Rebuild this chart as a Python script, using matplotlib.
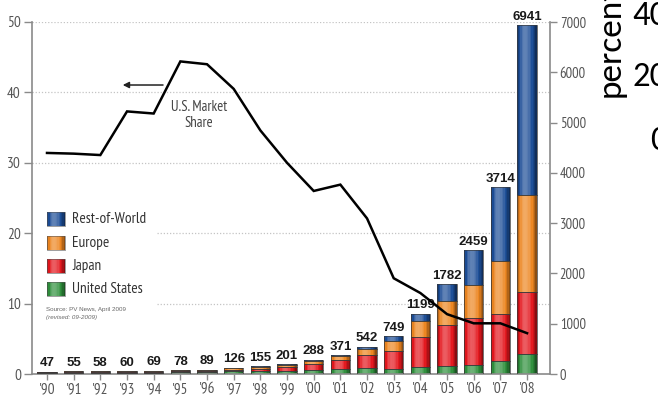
import numpy as np
import matplotlib
matplotlib.use("Agg")
import matplotlib.pyplot as plt
from matplotlib.patches import Rectangle
from matplotlib.colors import to_rgb

# ---- data -------------------------------------------------------------
years = ["'90", "'91", "'92", "'93", "'94", "'95", "'96", "'97", "'98", "'99",
         "'00", "'01", "'02", "'03", "'04", "'05", "'06", "'07", "'08"]
# annual PV cell production by region (MW)
us = [15, 17, 18, 22, 26, 35, 39, 51, 54, 60, 75, 100, 120, 102, 139, 151, 177, 266, 402]
japan = [17, 20, 19, 17, 16, 16, 21, 35, 49, 80, 129, 171, 251, 364, 602, 833, 928, 920, 1223]
europe = [10, 14, 16, 17, 22, 20, 19, 30, 34, 40, 61, 86, 135, 193, 314, 470, 657, 1062, 1930]
rest_of_world = [5, 4, 5, 4, 5, 7, 10, 10, 18, 21, 23, 14, 36, 90, 144, 328, 697, 1466, 3386]
# U.S. share of world production (%)
us_share = [31.4, 31.3, 31.1, 37.3, 37.0, 44.4, 44.0, 40.5, 34.6, 30.0,
            26.0, 26.9, 22.1, 13.6, 11.5, 8.5, 7.2, 7.2, 5.8]

series = [
    ("United States", us, "#2f8f3c"),
    ("Japan", japan, "#e3161d"),
    ("Europe", europe, "#ec8520"),
    ("Rest-of-World", rest_of_world, "#1c4d96"),
]

NARROW = ["PT Sans Narrow", "Roboto Condensed", "Open Sans Condensed",
          "Fira Sans Condensed", "Liberation Sans Narrow", "DejaVu Sans"]
BOLD = ["Liberation Sans", "Arimo", "DejaVu Sans"]
BIG = ["Carlito", "Open Sans", "DejaVu Sans"]

W, H = 658, 396
fig = plt.figure(figsize=(W / 100, H / 100), dpi=100)
fig.patch.set_facecolor("white")

# axes rectangle in pixels
L, R, T, B = 32, 550, 22, 374
ax = fig.add_axes([L / W, 1 - B / H, (R - L) / W, (B - T) / H])
ax2 = ax.twinx()

x = np.arange(len(years))
ax.set_xlim(-0.5625, 18.86)
ax.set_ylim(0, 7000)
ax2.set_ylim(0, 50)


def shade(t):
    """cylinder-like shading across a bar (positive = lighter)."""
    if t < 0.38:
        return 0.30 - 0.62 * ((t - 0.38) / 0.38) ** 2
    return 0.30 - 0.80 * ((t - 0.38) / 0.62) ** 2


def blend(color, s):
    c = np.array(to_rgb(color))
    if s >= 0:
        return tuple(c + (1 - c) * s)
    return tuple(c * (1 + s))


# ---- dotted grid behind the bars --------------------------------------
for pct in [10, 20, 30, 40, 50]:
    ax.axhline(pct / 50 * 7000, color="#c4c4c4", lw=0.9, ls=(0, (1, 1.5)), zorder=0)

# ---- stacked, shaded bars ---------------------------------------------
bw = 0.72
nstrip = 14
bottom = np.zeros(len(years))
for name, vals, col in series:
    vals = np.array(vals, dtype=float)
    for i in range(nstrip):
        t = (i + 0.5) / nstrip
        ax.bar(x - bw / 2 + i * bw / nstrip, vals, width=bw / nstrip * 1.06,
               bottom=bottom, align="edge", color=blend(col, shade(t)),
               linewidth=0, zorder=2)
    ax.bar(x, vals, width=bw, bottom=bottom, fill=False,
           edgecolor="#3a3a3a", linewidth=0.5, zorder=3)
    bottom = bottom + vals

totals = bottom
for xi, tot in zip(x, totals):
    ax.text(xi, tot + 45, f"{int(round(tot))}", ha="center", va="bottom",
            fontsize=9.5, fontweight="bold", color="#1a1a1a", family=BOLD, zorder=4)

# ---- market share line --------------------------------------------------
ax2.plot(x, us_share, color="black", lw=1.8, zorder=5, solid_joinstyle="miter")
ax2.annotate("", xy=(2.84, 41.05), xytext=(4.35, 41.05),
             arrowprops=dict(arrowstyle="-|>", color="#222", lw=1.1,
                             mutation_scale=9, shrinkA=0, shrinkB=0))
ax2.text(5.69, 36.8, "U.S. Market\nShare", ha="center", va="center",
         fontsize=10.5, color="#444", family=NARROW, linespacing=1.2)

# ---- axes styling ---------------------------------------------------------
for a in (ax, ax2):
    for s in a.spines.values():
        s.set_visible(False)
for side in ("left", "bottom", "right"):
    ax.spines[side].set_visible(True)
    ax.spines[side].set_color("#8a8a8a")
    ax.spines[side].set_linewidth(1.2)

ax.set_xticks(x)
ax.set_xticklabels(years, family=NARROW, fontsize=11, color="#555")
ax.tick_params(axis="x", length=4, width=1, color="#8a8a8a", pad=2)

ax.yaxis.tick_right()
ax.set_yticks(np.arange(0, 7001, 1000))
ax.set_yticklabels([str(v) for v in range(0, 7001, 1000)], family=NARROW,
                   fontsize=10.5, color="#555")
ax.tick_params(axis="y", length=5, width=1, color="#8a8a8a", pad=2)

ax2.yaxis.tick_left()
ax2.set_yticks([0, 10, 20, 30, 40, 50])
ax2.set_yticklabels(["0", "10", "20", "30", "40", "50"], family=NARROW,
                    fontsize=11, color="#555")
ax2.tick_params(axis="y", length=6, width=1, color="#8a8a8a", pad=2)


# ---- legend ----------------------------------------------------------------
def fx(px):
    return (px - L) / (R - L)


def fy(py):
    return (B - py) / (B - T)


ax.add_patch(Rectangle((fx(33), fy(326)), fx(157) - fx(33), fy(205) - fy(326),
                       transform=ax.transAxes, facecolor="white",
                       edgecolor="none", zorder=1))
legend_rows = [("Rest-of-World", "#1c4d96", 219), ("Europe", "#ec8520", 243),
               ("Japan", "#e3161d", 266), ("United States", "#2f8f3c", 289)]
pw, ph = 18, 14
for label, col, cy in legend_rows:
    for i in range(nstrip):
        t = (i + 0.5) / nstrip
        ax.add_patch(Rectangle((fx(47 + i * pw / nstrip), fy(cy + ph / 2)),
                               (pw / nstrip * 1.06) / (R - L), ph / (B - T),
                               transform=ax.transAxes, facecolor=blend(col, shade(t)),
                               edgecolor="none", zorder=2))
    ax.add_patch(Rectangle((fx(47), fy(cy + ph / 2)), pw / (R - L), ph / (B - T),
                           transform=ax.transAxes, fill=False, edgecolor="#555",
                           lw=0.4, zorder=3))
    ax.text(fx(72), fy(cy), label, transform=ax.transAxes, ha="left", va="center",
            fontsize=11, color="#333", family=NARROW, zorder=3)

ax.text(fx(46), fy(309), "Source: PV News, April 2009", transform=ax.transAxes,
        ha="left", va="center", fontsize=4.5, color="#666", family=BOLD, zorder=3)
ax.text(fx(46), fy(318), "(revised: 09-2009)", transform=ax.transAxes,
        ha="left", va="center", fontsize=4.5, color="#666", family=BOLD,
        style="italic", zorder=3)

# ---- large labels at the right edge ----------------------------------------
fig.text(610.5 / W, 1 - 97 / H, "percent", rotation=90, ha="center", va="bottom",
         fontsize=25.5, family=BIG, color="black")
for lab, py in [("40", 16), ("20", 77), ("0", 141)]:
    fig.text(668 / W, 1 - py / H, lab, ha="right", va="center",
             fontsize=25, family=BIG, color="black")

fig.savefig("out.png", dpi=100, facecolor="white")
